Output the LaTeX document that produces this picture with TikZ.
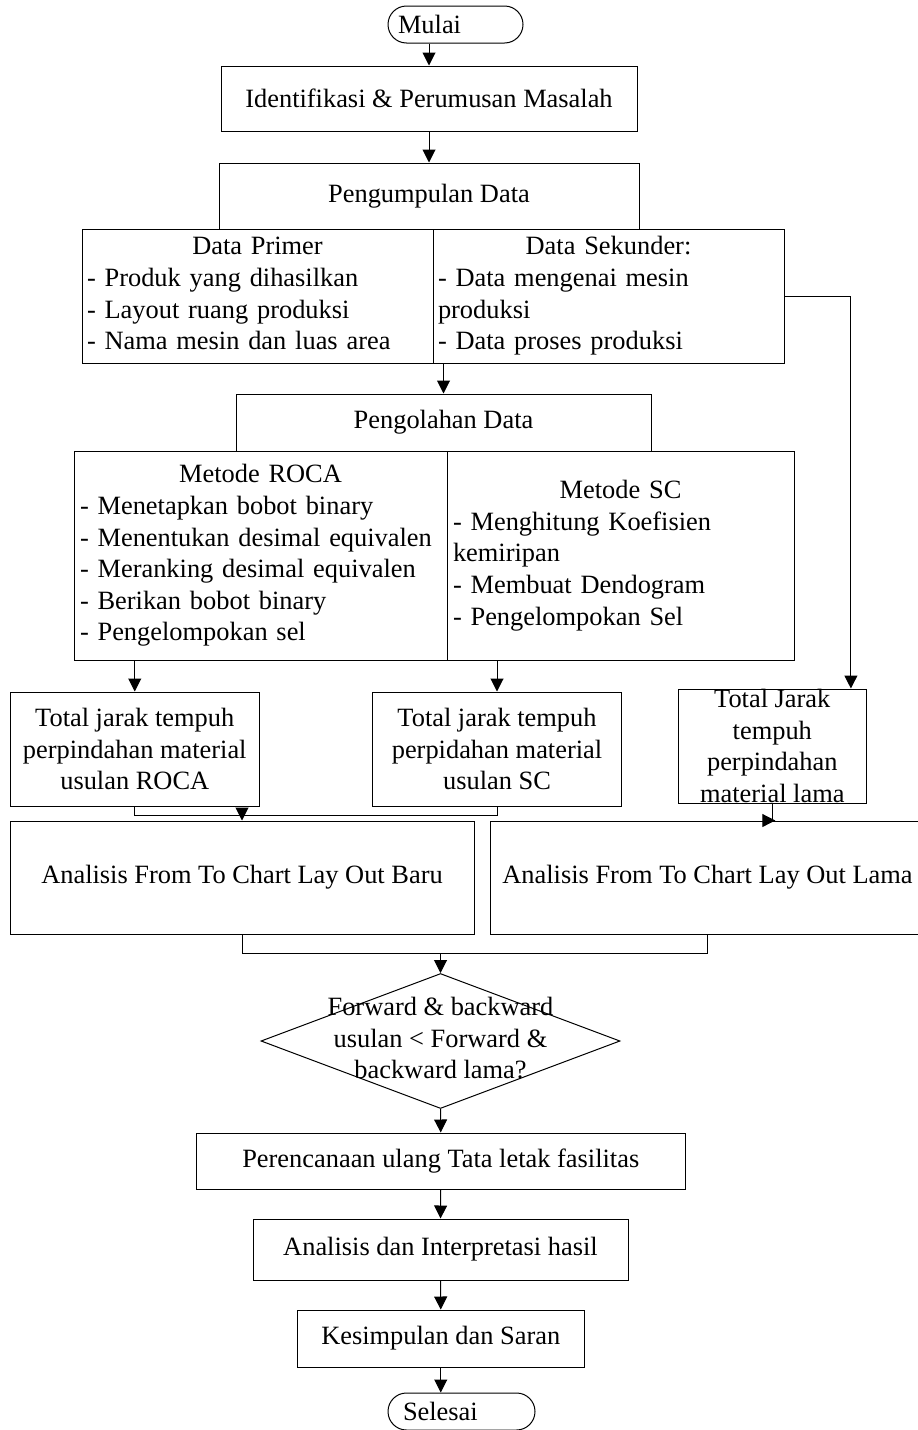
\documentclass[tikz,border=0pt]{standalone}
\usepackage{fontspec}
\setmainfont{Liberation Serif}
\usetikzlibrary{shapes, arrows.meta, positioning, calc}

\begin{document}
\begin{tikzpicture}[
        x=0.5pt, y=-0.5pt,
        proses/.style={rectangle, draw=black, line width=0.5pt, inner sep=0pt, align=center, font=\fontsize{13.2}{15.8}\selectfont},
        daftar/.style={proses, align=left, inner xsep=3pt},
        terminal/.style={proses, rounded corners=9.25pt, align=left},
        keputusan/.style={diamond, draw=black, line width=0.5pt, inner sep=0pt, font=\fontsize{13.2}{15.8}\selectfont},
        panah/.style={-{Triangle[width=6.5pt, length=6.5pt]}, line width=0.5pt},
        garis/.style={line width=0.5pt}
    ]
        \useasboundingbox (0,0) rectangle (917,1430);
        \node[terminal, minimum width=67.5pt, minimum height=18.5pt, inner xsep=5pt, text width=57.5pt] (mulai) at (455.5,24.5) {Mulai};
        \node[proses, minimum width=208pt, minimum height=32.5pt] (ident) at (429,98.5) {Identifikasi \& Perumusan Masalah};
        \node[proses, minimum width=210pt, minimum height=33pt] (kumpul) at (429,196) {Pengumpulan Data};
        \node[daftar, minimum width=175.5pt, minimum height=67pt, inner xsep=2.5pt, text width=170.5pt] (primer) at (257.5,296) {{\centering\strut Data Primer\par}- Produk yang dihasilkan\par- Layout ruang produksi\par- Nama mesin dan luas area\strut};
        \node[daftar, minimum width=175.5pt, minimum height=67pt, inner xsep=2.5pt, text width=170.5pt] (sekunder) at (608.5,296) {{\centering\strut Data Sekunder:\par}- Data mengenai mesin\par produksi\par- Data proses produksi\strut};
        \node[proses, minimum width=207.5pt, minimum height=28.5pt] (olah) at (443.5,422.5) {Pengolahan Data};
        \node[daftar, minimum width=186.5pt, minimum height=104.5pt, text width=180.5pt] (roca) at (260.5,555.5) {{\centering\strut Metode ROCA\par}- Menetapkan bobot binary\par- Menentukan desimal equivalen\par- Meranking desimal equivalen\par- Berikan bobot binary\par- Pengelompokan sel\strut};
        \node[daftar, minimum width=173.5pt, minimum height=104.5pt, text width=167.5pt] (sc) at (620.5,555.5) {{\centering\strut Metode SC\par}- Menghitung Koefisien\par kemiripan\par- Membuat Dendogram\par- Pengelompokan Sel\strut};
        \node[proses, minimum width=124.25pt, minimum height=57pt] (jrkroca) at (134.75,749) {Total jarak tempuh\\perpindahan material\\usulan ROCA};
        \node[proses, minimum width=124.5pt, minimum height=57pt] (jrksc) at (497,749) {Total jarak tempuh\\perpidahan material\\usulan SC};
        \node[proses, minimum width=94.3pt, minimum height=57pt] (jrklama) at (772.3,746) {Total Jarak\\tempuh\\perpindahan\\material lama};
        \node[proses, minimum width=232pt, minimum height=56.5pt] (baru) at (242,877.5) {Analisis From To Chart Lay Out Baru};
        \node[proses, minimum width=217.5pt, minimum height=56.5pt] (lama) at (707.5,877.5) {Analisis From To Chart Lay Out Lama};
        \node[keputusan, minimum width=179.5pt, minimum height=67.5pt] (putus) at (440.5,1041) {\makebox[0pt]{\raisebox{-3pt}[0pt][0pt]{\begin{tabular}{@{}c@{}}Forward \& backward\\usulan < Forward \&\\backward lama?\end{tabular}}}};
        \node[proses, minimum width=244.25pt, minimum height=28pt] (rencana) at (440.75,1161) {Perencanaan ulang Tata letak fasilitas};
        \node[proses, minimum width=187.5pt, minimum height=30.5pt] (hasil) at (440.5,1249.5) {Analisis dan Interpretasi hasil};
        \node[proses, minimum width=143.75pt, minimum height=28.5pt] (simpul) at (440.75,1338.5) {Kesimpulan dan Saran};
        \node[terminal, minimum width=73.5pt, minimum height=18.5pt, inner xsep=7.5pt, text width=58.5pt] (selesai) at (461.5,1411.5) {Selesai};
        \draw[panah] (ident.north |- mulai.south) -- (ident.north);
        \draw[panah] (ident.south) -- (kumpul.north);
        \draw[panah] (olah.north |- primer.south) -- (olah.north);
        \draw[panah] (sekunder.east) -| ([xshift=39.3pt]jrklama.north);
        \draw[panah] (jrkroca.north |- roca.south) -- (jrkroca.north);
        \draw[panah] (jrksc.north |- sc.south) -- (jrksc.north);
        \draw[garis] (jrkroca.south) -- ++(0,9) coordinate (g1) -| (jrksc.south);
        \draw[panah] (g1 -| baru.north) -- (baru.north);
        \draw[panah] (jrklama.south) |- ([xshift=1.5pt]jrklama.south |- lama.north);
        \draw[garis] (baru.south) -- ++(0,19) coordinate (g2) -| (lama.south);
        \draw[panah] (g2 -| putus.north) -- (putus.north);
        \draw[panah] (putus.south) -- (rencana.north);
        \draw[panah] (rencana.south) -- (hasil.north);
        \draw[panah] (hasil.south) -- (simpul.north);
        \draw[panah] (simpul.south) -- (simpul.south |- selesai.north);
    \end{tikzpicture}
\end{document}
